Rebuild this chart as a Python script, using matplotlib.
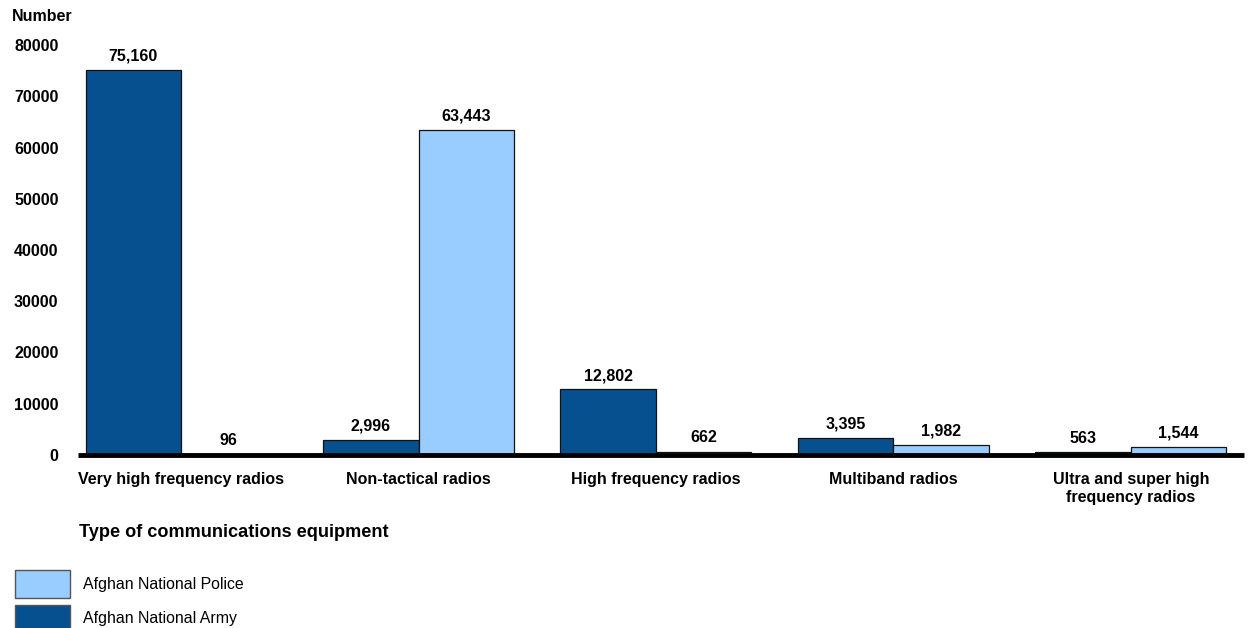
import numpy as np
import matplotlib.pyplot as plt
from matplotlib.patches import Rectangle

categories = ['Very high frequency radios', 'Non-tactical radios', 'High frequency radios',
              'Multiband radios', 'Ultra and super high\nfrequency radios']
army = [75160, 2996, 12802, 3395, 563]
police = [96, 63443, 662, 1982, 1544]
yticks = [0, 10000, 20000, 30000, 40000, 50000, 60000, 70000, 80000]

army_color = '#06508F'
police_color = '#99CCFF'

plt.rcParams['font.family'] = ['Liberation Sans', 'DejaVu Sans']

fig = plt.figure(figsize=(12.48, 6.28), dpi=100, facecolor='white')
ax = fig.add_axes([0.0625, 0.2755, 0.934, 0.6528])

x = np.arange(len(categories))
w = 0.402
ax.bar(x - w/2, army, w, color=army_color, edgecolor='#111111', linewidth=0.9, zorder=2)
ax.bar(x + w/2, police, w, color=police_color, edgecolor='#111111', linewidth=0.9, zorder=2)

for xi, a, p in zip(x, army, police):
    ax.text(xi - w/2, a + 1200, f'{a:,}', ha='center', va='bottom', fontsize=11.5, fontweight='bold')
    ax.text(xi + w/2, p + 1200, f'{p:,}', ha='center', va='bottom', fontsize=11.5, fontweight='bold')

ax.axhline(0, color='black', linewidth=3.5, zorder=3, clip_on=False, solid_capstyle='butt')

ax.set_xlim(-0.434, 4.475)
ax.set_ylim(0, 80000)
ax.set_yticks(yticks)
ax.set_yticklabels([str(v) for v in yticks], fontsize=11.5, fontweight='bold')
ax.tick_params(axis='y', length=0, pad=14)
ax.set_xticks(x)
ax.set_xticklabels(categories, fontsize=11.5, fontweight='bold', linespacing=1.25, va='top')
ax.tick_params(axis='x', length=0, pad=12)
for s in ax.spines.values():
    s.set_visible(False)

fig.text(0.0096, 0.973, 'Number', fontsize=11.5, fontweight='bold', va='center', ha='left')
fig.text(0.063, 0.152, 'Type of communications equipment', fontsize=13.1, fontweight='bold',
         va='center', ha='left')

# legend
legend_items = [('Afghan National Police', police_color), ('Afghan National Army', army_color)]
for i, (label, col) in enumerate(legend_items):
    y0 = 1 - (598 + i * 35) / 628
    fig.patches.append(Rectangle((15/1248, y0), 55/1248, 28/628, transform=fig.transFigure,
                                 facecolor=col, edgecolor='#555555', linewidth=1.0))
    fig.text(83/1248, y0 + 14/628, label, fontsize=11.4, va='center', ha='left')

fig.savefig('out.png', dpi=100)
